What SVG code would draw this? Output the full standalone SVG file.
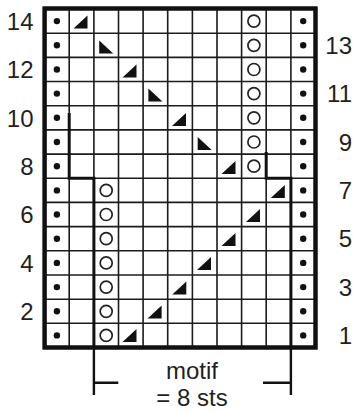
<svg xmlns="http://www.w3.org/2000/svg" xmlns:xlink="http://www.w3.org/1999/xlink" width="355" height="412" viewBox="0 0 355 412">
<style>
.grid{fill:none;stroke:#1c1c1c;stroke-width:1.6}
.thick{fill:none;stroke:#111;stroke-width:3}
.border{fill:#fff;stroke:#111;stroke-width:4}
.br{fill:none;stroke:#111;stroke-width:2.4}
.lbl{font-family:"Liberation Sans",Arial,sans-serif;font-size:24px;fill:#231f20}
.l{text-anchor:end}
.mid{text-anchor:middle}
.dot{fill:#111}
.yo{fill:none;stroke:#222;stroke-width:1.7}
.tri{fill:#111}
</style>
<defs>
<circle id="p" r="3.2" class="dot"/>
<circle id="o" r="6" class="yo"/>
<polygon id="kr" points="-7,6.5 7,6.5 7,-6.5" class="tri"/>
<polygon id="kl" points="-7,-6.5 -7,6.5 7,6.5" class="tri"/>
</defs>
<g id="chart">
<rect class="border" x="44.6" y="8.5" width="270.9" height="339"/>
<path class="grid" d="M69.2,9V347.5M93.9,9V347.5M118.5,9V347.5M143.1,9V347.5M167.7,9V347.5M192.4,9V347.5M217,9V347.5M241.6,9V347.5M266.2,9V347.5M290.9,9V347.5
M44.6,33.2H315.5M44.6,57.4H315.5M44.6,81.5H315.5M44.6,105.7H315.5M44.6,129.9H315.5M44.6,154.1H315.5M44.6,178.3H315.5M44.6,202.4H315.5M44.6,226.6H315.5M44.6,250.8H315.5M44.6,275H315.5M44.6,299.2H315.5M44.6,323.3H315.5"/>
<path class="thick" d="M69.2,113V178.3H93.9V347.5M266.2,152V178.3H290.9V347.5"/>
<rect x="44.6" y="8.5" width="270.9" height="339" fill="none" stroke="#111" stroke-width="4"/>
</g>
<g id="purl-left">
<use href="#p" x="56.9" y="21.1"/><use href="#p" x="56.9" y="45.3"/><use href="#p" x="56.9" y="69.5"/><use href="#p" x="56.9" y="93.6"/><use href="#p" x="56.9" y="117.8"/><use href="#p" x="56.9" y="142"/><use href="#p" x="56.9" y="166.2"/><use href="#p" x="56.9" y="190.4"/><use href="#p" x="56.9" y="214.5"/><use href="#p" x="56.9" y="238.7"/><use href="#p" x="56.9" y="262.9"/><use href="#p" x="56.9" y="287.1"/><use href="#p" x="56.9" y="311.3"/><use href="#p" x="56.9" y="335.4"/>
</g>
<g id="purl-right">
<use href="#p" x="303.2" y="21.1"/><use href="#p" x="303.2" y="45.3"/><use href="#p" x="303.2" y="69.5"/><use href="#p" x="303.2" y="93.6"/><use href="#p" x="303.2" y="117.8"/><use href="#p" x="303.2" y="142"/><use href="#p" x="303.2" y="166.2"/><use href="#p" x="303.2" y="190.4"/><use href="#p" x="303.2" y="214.5"/><use href="#p" x="303.2" y="238.7"/><use href="#p" x="303.2" y="262.9"/><use href="#p" x="303.2" y="287.1"/><use href="#p" x="303.2" y="311.3"/><use href="#p" x="303.2" y="335.4"/>
</g>
<g id="yo-upper">
<use href="#o" x="253.9" y="21.1"/><use href="#o" x="253.9" y="45.3"/><use href="#o" x="253.9" y="69.5"/><use href="#o" x="253.9" y="93.6"/><use href="#o" x="253.9" y="117.8"/><use href="#o" x="253.9" y="142"/><use href="#o" x="253.9" y="166.2"/>
</g>
<g id="yo-lower">
<use href="#o" x="106.2" y="190.4"/><use href="#o" x="106.2" y="214.5"/><use href="#o" x="106.2" y="238.7"/><use href="#o" x="106.2" y="262.9"/><use href="#o" x="106.2" y="287.1"/><use href="#o" x="106.2" y="311.3"/><use href="#o" x="106.2" y="335.4"/>
</g>
<g id="decreases">
<use href="#kr" x="80.5" y="22"/>
<use href="#kl" x="106.2" y="47"/>
<use href="#kr" x="129.5" y="71"/>
<use href="#kl" x="155.4" y="95"/>
<use href="#kr" x="179" y="119.5"/>
<use href="#kl" x="204.7" y="143.5"/>
<use href="#kr" x="228.5" y="167.5"/>
<use href="#kr" x="277.8" y="191.5"/>
<use href="#kr" x="253" y="215.5"/>
<use href="#kr" x="228.5" y="239.5"/>
<use href="#kr" x="204" y="263.5"/>
<use href="#kr" x="179.3" y="288"/>
<use href="#kr" x="154.6" y="312"/>
<use href="#kr" x="129.5" y="335.5"/>
</g>
<g id="row-labels">
<text class="lbl l" x="33.5" y="29.8">14</text>
<text class="lbl l" x="33.5" y="78.2">12</text>
<text class="lbl l" x="33.5" y="126.5">10</text>
<text class="lbl l" x="33.5" y="174.9">8</text>
<text class="lbl l" x="33.5" y="223.2">6</text>
<text class="lbl l" x="33.5" y="271.6">4</text>
<text class="lbl l" x="33.5" y="320">2</text>
<text class="lbl l" x="352" y="54">13</text>
<text class="lbl l" x="352" y="102.3">11</text>
<text class="lbl l" x="352" y="150.7">9</text>
<text class="lbl l" x="352" y="199.1">7</text>
<text class="lbl l" x="352" y="247.4">5</text>
<text class="lbl l" x="352" y="295.8">3</text>
<text class="lbl l" x="352" y="344.1">1</text>
</g>
<g id="motif">
<path class="br" d="M93.9,347.5V395M93.9,382.7H118.3M290.9,347.5V395M290.9,382.7H263"/>
<text class="lbl mid" x="192" y="379">motif</text>
<text class="lbl mid" x="192" y="406">= 8 sts</text>
</g>
</svg>
